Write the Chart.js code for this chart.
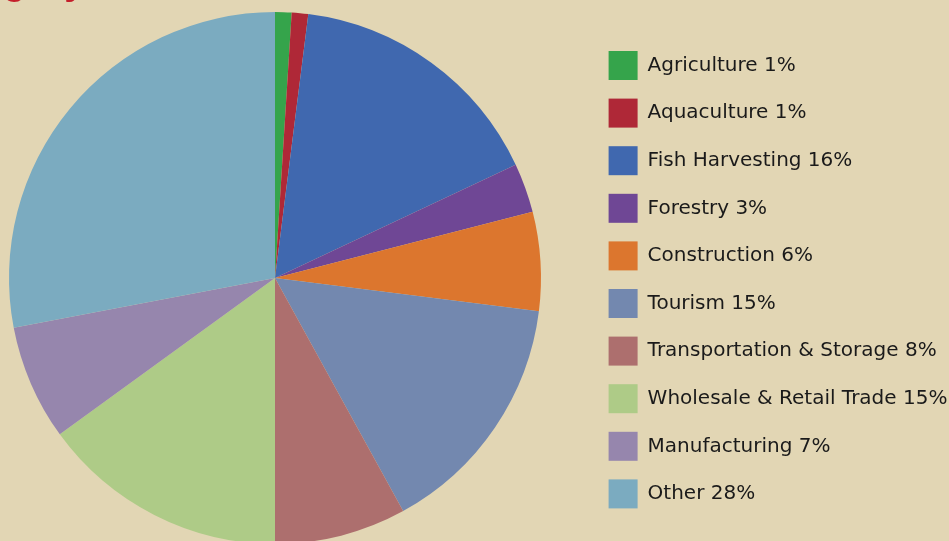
<!DOCTYPE html>
<html>
<head>
<meta charset="utf-8">
<script src="https://cdn.jsdelivr.net/npm/chart.js@4"></script>
<style>
	html, body { margin:0; padding:0; background:#E2D6B4; overflow:hidden; }
	#wrap { position:relative; width:949px; height:541px; overflow:hidden; }
	#box { position:absolute; left:-40px; top:0; width:989px; height:560px; }
	#title { position:absolute; left:3px; top:-38px; font:bold 38px "Liberation Sans", Arial, sans-serif; line-height:38px; color:#C41E2A; white-space:nowrap; }
</style>
</head>
<body>
<div id="wrap">
	<div id="box"><canvas id="myChart" width="989" height="560"></canvas></div>
	<div id="title">gory</div>
</div>
<script>

var sectors = [ "Agriculture","Aquaculture","Fish Harvesting","Forestry","Construction",
	"Tourism","Transportation & Storage","Wholesale & Retail Trade","Manufacturing","Other" ];
var shares = [ 1,1,16,3,6,15,8,15,7,28 ];
var colors = [ "#35A44B","#AF2837","#4068AF","#6F4795","#DC762E",
	"#7388AF","#AD6F6E","#AECB87","#9686AD","#7BABC0" ];

// legend is pinned by maxWidth; let its text run past that box
var noLegendClip = {
	id: "noLegendClip",
	afterLayout: (chart)=>{ chart.legend.right = chart.width; }
};

window.onload = ()=>{

	Chart.defaults.font.family = "'DejaVu Sans', sans-serif";

	new Chart("myChart", {
		type: "pie",
		data: {
			labels: sectors,
			datasets: [{
				data: shares,
				backgroundColor: colors,
				borderWidth: 0,
				hoverOffset: 0
			}]
		},
		plugins: [ noLegendClip ],
		options: {
			responsive: false,
			animation: false,
			layout: { padding: { left:0, right:30, top:12, bottom:16 } },
			plugins: {
				tooltip: { enabled:false },
				legend: {
					position: "right",
					align: "start",
					maxWidth: 329,
					title: { display:true, text:"", padding:0, font:{ size:20.4, lineHeight:1 } },
					labels: {
						boxWidth: 29,
						boxHeight: 29,
						padding: 18.6,
						color: "#1a1a1a",
						font: { size:20 },
						generateLabels: (chart)=> sectors.map( (s,i)=>({
							text: s + " " + shares[i] + "%",
							fillStyle: colors[i],
							strokeStyle: colors[i],
							fontColor: "#1a1a1a",
							lineWidth: 0,
							hidden: false,
							index: i
						}))
					}
				}
			}
		}
	});

}
</script>
</body>
</html>
